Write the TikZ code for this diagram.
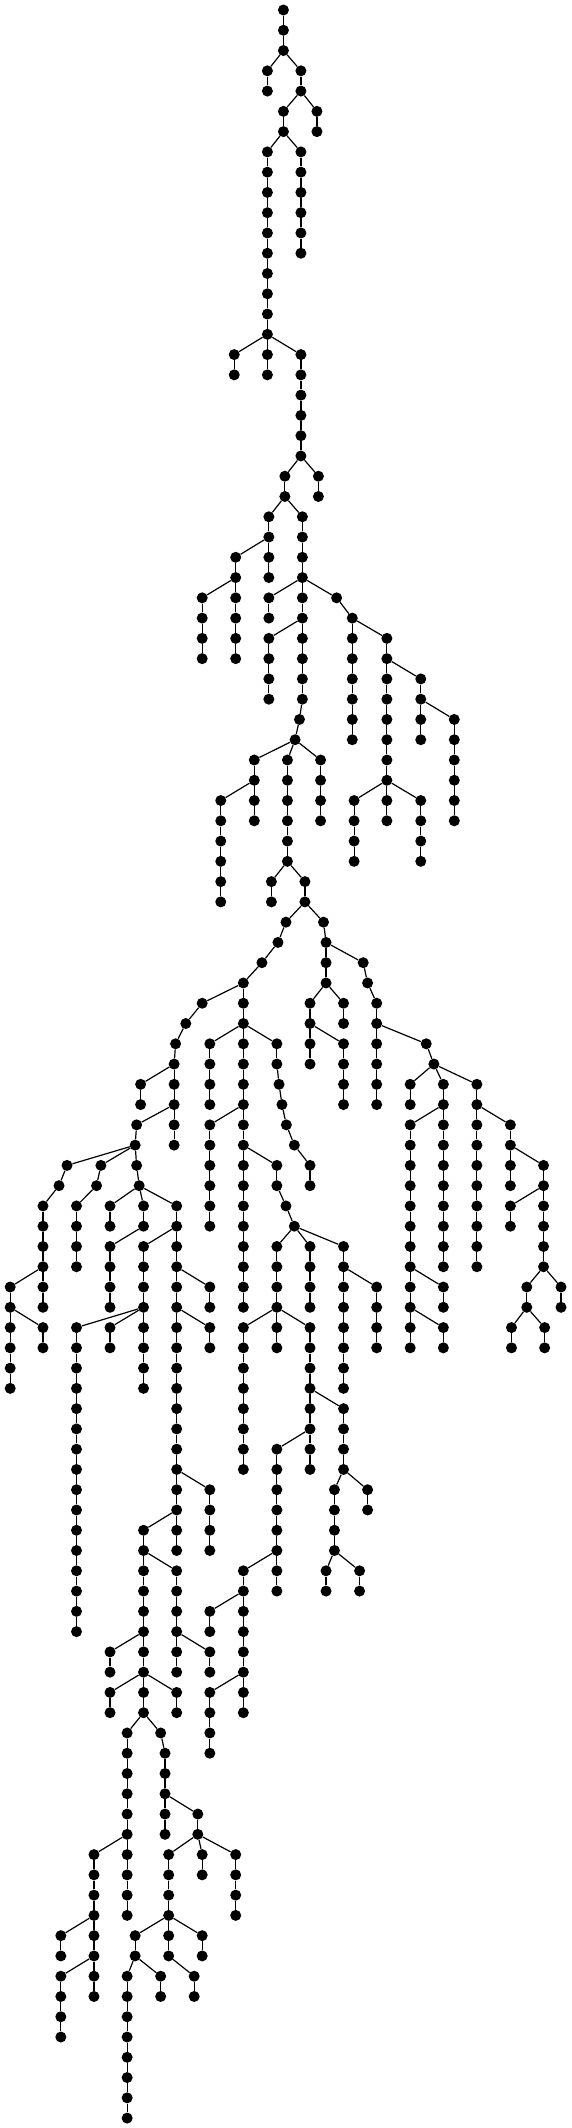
\documentclass[tikz,border=0pt]{standalone}
\begin{document}
\begin{tikzpicture}[x=0.3643pt,y=1pt,
  dot/.style={circle,fill=black,inner sep=0pt,minimum size=11pt},
  edge/.style={line width=1.2pt,black}]
\useasboundingbox (0,0) rectangle (1567.4,-2128);
\node[dot] (n0x778) at (778,-10) {};
\foreach \lv/\xv/\pv in {
1/778/778, 2/778/778,
3/734/778, 3/826/778,
4/734/734, 4/826/826,
5/778/826, 5/870/826,
6/778/778, 6/870/870,
7/734/778, 7/826/778,
8/734/734, 8/826/826,
9/734/734, 9/826/826,
10/734/734, 10/826/826,
11/734/734, 11/826/826,
12/734/734, 12/826/826,
13/734/734, 14/734/734, 15/734/734, 16/734/734,
17/643/734, 17/734/734, 17/826/734,
18/643/643, 18/734/734, 18/826/826,
19/826/826, 20/826/826, 21/826/826, 22/826/826,
23/782/826, 23/874/826,
24/782/782, 24/874/874,
25/738/782, 25/830/782,
26/738/738, 26/830/830,
27/647/738, 27/738/738, 27/830/830,
28/647/647, 28/738/738, 28/830/830,
29/555/647, 29/647/647, 29/738/830, 29/830/830, 29/924/830,
30/555/555, 30/647/647, 30/738/738, 30/830/830, 30/967/924,
31/555/555, 31/647/647, 31/738/830, 31/830/830, 31/967/967, 31/1062/967,
32/555/555, 32/647/647, 32/738/738, 32/830/830, 32/967/967, 32/1062/1062,
33/738/738, 33/830/830, 33/967/967, 33/1062/1062, 33/1155/1062,
34/738/738, 34/830/830, 34/967/967, 34/1062/1062, 34/1155/1155,
35/822/830, 35/967/967, 35/1062/1062, 35/1155/1155, 35/1247/1155,
36/810/822, 36/967/967, 36/1062/1062, 36/1155/1155, 36/1247/1247,
37/698/810, 37/789/810, 37/880/810, 37/1062/1062, 37/1247/1247,
38/698/698, 38/789/789, 38/880/880, 38/1062/1062, 38/1247/1247,
39/606/698, 39/698/698, 39/789/789, 39/880/880, 39/972/1062, 39/1062/1062, 39/1155/1062, 39/1247/1247,
40/606/606, 40/698/698, 40/789/789, 40/880/880, 40/972/972, 40/1062/1062, 40/1155/1155, 40/1247/1247,
41/606/606, 41/789/789, 41/972/972, 41/1155/1155,
42/606/606, 42/789/789, 42/972/972, 42/1155/1155,
43/606/606, 43/745/789, 43/837/789,
44/606/606, 44/745/745, 44/837/837,
45/785/837, 45/888/837,
46/763/785, 46/895/888,
47/719/763, 47/895/895, 47/997/895,
48/668/719, 48/895/895, 48/1009/997,
49/555/668, 49/668/668, 49/851/895, 49/943/895, 49/1034/1009,
50/510/555, 50/668/668, 50/851/851, 50/943/943, 50/1034/1034,
51/482/510, 51/576/668, 51/668/668, 51/760/668, 51/851/851, 51/943/851, 51/1034/1034, 51/1170/1034,
52/478/482, 52/576/576, 52/668/668, 52/760/760, 52/851/851, 52/943/943, 52/1034/1034, 52/1191/1170,
53/386/478, 53/478/478, 53/576/576, 53/668/668, 53/766/760, 53/943/943, 53/1034/1034, 53/1126/1191, 53/1217/1191, 53/1309/1191,
54/386/386, 54/478/478, 54/576/576, 54/668/668, 54/774/766, 54/943/943, 54/1034/1034, 54/1126/1126, 54/1217/1217, 54/1309/1309,
55/375/478, 55/478/478, 55/576/668, 55/668/668, 55/786/774, 55/1126/1217, 55/1217/1217, 55/1309/1309, 55/1401/1309,
56/371/375, 56/478/478, 56/576/576, 56/668/668, 56/808/786, 56/1126/1126, 56/1217/1217, 56/1309/1309, 56/1401/1401,
57/184/371, 57/277/371, 57/375/371, 57/576/576, 57/668/668, 57/760/668, 57/851/808, 57/1126/1126, 57/1217/1217, 57/1309/1309, 57/1401/1401, 57/1492/1401,
58/162/184, 58/265/277, 58/382/375, 58/576/576, 58/668/668, 58/760/760, 58/851/851, 58/1126/1126, 58/1217/1217, 58/1309/1309, 58/1401/1401, 58/1492/1492,
59/118/162, 59/210/265, 59/302/382, 59/394/382, 59/485/382, 59/576/576, 59/668/668, 59/785/760, 59/1126/1126, 59/1217/1217, 59/1309/1309, 59/1401/1492, 59/1492/1492,
60/118/118, 60/210/210, 60/302/302, 60/394/394, 60/485/485, 60/576/576, 60/668/668, 60/808/785, 60/1126/1126, 60/1217/1217, 60/1309/1309, 60/1401/1401, 60/1492/1492,
61/118/118, 61/210/210, 61/302/394, 61/394/485, 61/485/485, 61/668/668, 61/760/808, 61/851/808, 61/943/808, 61/1126/1126, 61/1217/1217, 61/1309/1309, 61/1492/1492,
62/118/118, 62/210/210, 62/302/302, 62/394/394, 62/485/485, 62/668/668, 62/760/760, 62/851/851, 62/943/943, 62/1126/1126, 62/1217/1217, 62/1309/1309, 62/1492/1492,
63/28/118, 63/118/118, 63/302/302, 63/394/394, 63/485/485, 63/576/485, 63/668/668, 63/760/760, 63/851/851, 63/943/943, 63/1034/943, 63/1126/1126, 63/1217/1126, 63/1446/1492, 63/1540/1492,
64/28/28, 64/118/118, 64/302/302, 64/394/394, 64/485/485, 64/576/576, 64/668/668, 64/760/760, 64/851/851, 64/943/943, 64/1034/1034, 64/1126/1126, 64/1217/1217, 64/1446/1446, 64/1540/1540,
65/28/28, 65/118/28, 65/210/394, 65/302/394, 65/394/394, 65/485/485, 65/576/485, 65/668/760, 65/760/760, 65/851/760, 65/943/943, 65/1034/1034, 65/1126/1126, 65/1217/1126, 65/1404/1446, 65/1495/1446,
66/28/28, 66/118/118, 66/210/210, 66/302/302, 66/394/394, 66/485/485, 66/576/576, 66/668/668, 66/760/760, 66/851/851, 66/943/943, 66/1034/1034, 66/1126/1126, 66/1217/1217, 66/1404/1404, 66/1495/1495,
67/28/28, 67/210/210, 67/394/394, 67/485/485, 67/668/668, 67/851/851, 67/943/943,
68/28/28, 68/210/210, 68/394/394, 68/485/485, 68/668/668, 68/851/851, 68/943/943,
69/210/210, 69/485/485, 69/668/668, 69/851/851, 69/943/851,
70/210/210, 70/485/485, 70/668/668, 70/851/851, 70/943/943,
71/210/210, 71/485/485, 71/668/668, 71/760/851, 71/851/851, 71/943/943,
72/210/210, 72/485/485, 72/668/668, 72/760/760, 72/851/851, 72/943/943,
73/210/210, 73/485/485, 73/576/485, 73/760/760, 73/918/943, 73/1009/943,
74/210/210, 74/485/485, 74/576/576, 74/760/760, 74/918/918, 74/1009/1009,
75/210/210, 75/394/485, 75/485/485, 75/576/576, 75/760/760, 75/918/918,
76/210/210, 76/394/394, 76/485/485, 76/576/576, 76/760/760, 76/918/918,
77/210/210, 77/394/394, 77/485/394, 77/668/760, 77/760/760, 77/895/918, 77/987/918,
78/210/210, 78/394/394, 78/485/485, 78/668/668, 78/760/760, 78/895/895, 78/987/987,
79/210/210, 79/394/394, 79/485/485, 79/576/668, 79/668/668,
80/210/210, 80/394/394, 80/485/485, 80/576/576, 80/668/668,
81/302/394, 81/394/394, 81/485/485, 81/576/485, 81/668/668,
82/302/302, 82/394/394, 82/485/485, 82/576/576, 82/668/668,
83/302/394, 83/394/394, 83/485/394, 83/576/668, 83/668/668,
84/302/302, 84/394/394, 84/485/485, 84/576/576, 84/668/668,
85/349/394, 85/441/394, 85/576/576,
86/349/349, 86/453/441, 86/576/576,
87/349/349, 87/453/453,
88/349/349, 88/453/453,
89/349/349, 89/453/453, 89/543/453,
90/349/349, 90/453/453, 90/543/543,
91/258/349, 91/349/349, 91/463/543, 91/555/543, 91/647/543,
92/258/258, 92/349/349, 92/463/463, 92/555/555, 92/647/647,
93/258/258, 93/349/349, 93/463/463, 93/647/647,
94/258/258, 94/349/349, 94/463/463, 94/647/647,
95/167/258, 95/258/258, 95/371/463, 95/463/463, 95/555/463,
96/167/167, 96/258/258, 96/371/371, 96/463/463, 96/555/555,
97/167/258, 97/258/258, 97/349/371, 97/441/371, 97/533/463,
98/167/167, 98/258/258, 98/349/349, 98/441/441, 98/533/533,
99/167/167, 99/349/349,
100/167/167, 100/349/349,
101/349/349, 102/349/349, 103/349/349, 104/349/349}
{
  \pgfmathtruncatemacro\pl{\lv-1}
  \node[dot] (n\lv x\xv) at (\xv,{-10-20.27*\lv}) {};
  \draw[edge] (n\pl x\pv) -- (n\lv x\xv);
}
\end{tikzpicture}
\end{document}
